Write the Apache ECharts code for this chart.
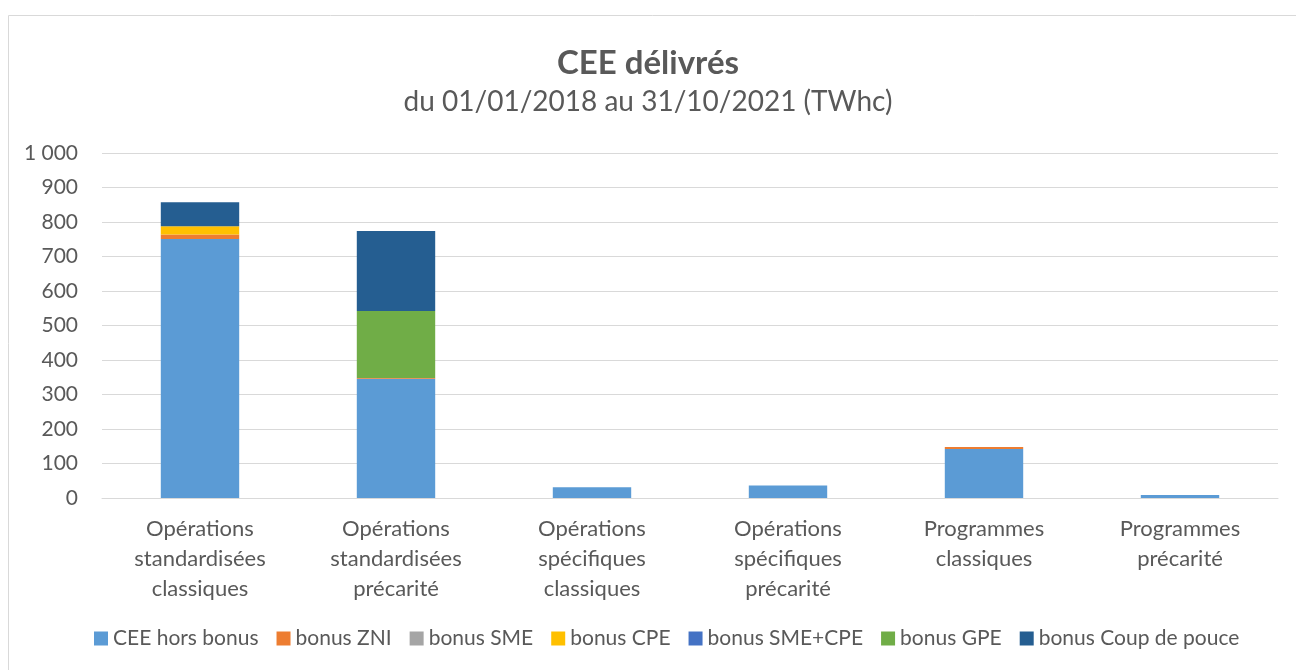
<!DOCTYPE html>
<html>
<head>
<meta charset="utf-8">
<script src="https://cdn.jsdelivr.net/npm/echarts@6/dist/echarts.min.js"></script>
<style>
  html, body { margin: 0; padding: 0; background: #fff; }
  #chart { width: 1296px; height: 670px; }
</style>
</head>
<body>
<div id="chart"></div>
<script>
// categories (x axis)
var categories = [
    'Opérations\nstandardisées\nclassiques',
    'Opérations\nstandardisées\nprécarité',
    'Opérations\nspécifiques\nclassiques',
    'Opérations\nspécifiques\nprécarité',
    'Programmes\nclassiques',
    'Programmes\nprécarité'
];

// stacked series values (TWhc)
var horsBonus   = [751, 346, 31, 36, 142, 9];
var bonusZNI    = [13, 2, 0, 0, 6, 0];
var bonusSME    = [0, 0, 0, 0, 0, 0];
var bonusCPE    = [24, 0, 0, 0, 0, 0];
var bonusSMECPE = [0, 0, 0, 0, 0, 0];
var bonusGPE    = [0, 194, 0, 0, 0, 0];
var bonusCDP    = [69, 232, 0, 0, 0, 0];

var seriesNames = ['CEE hors bonus', 'bonus ZNI', 'bonus SME', 'bonus CPE',
    'bonus SME+CPE', 'bonus GPE', 'bonus Coup de pouce'];
var seriesData = [horsBonus, bonusZNI, bonusSME, bonusCPE, bonusSMECPE, bonusGPE, bonusCDP];
var colors = ['#5b9bd5', '#ed7d31', '#a5a5a5', '#ffc000', '#4472c4', '#70ad47', '#255e91'];

var textColor = '#595959';
var font = 'Lato, "Open Sans", sans-serif';

var chart = echarts.init(document.getElementById('chart'));

var series = seriesNames.map(function (name, i) {
    return {
        name: name,
        type: 'bar',
        stack: 'total',
        barWidth: '40%',
        data: seriesData[i],
        itemStyle: { color: colors[i] },
        emphasis: { disabled: true }
    };
});

chart.setOption({
    animation: false,
    color: colors,
    textStyle: { fontFamily: font },
    graphic: [{
        type: 'rect',
        shape: { x: 8.5, y: 15.5, width: 1300, height: 700 },
        style: { fill: 'none', stroke: '#d9d9d9', lineWidth: 1 },
        silent: true
    }],
    title: {
        text: 'CEE délivrés',
        subtext: 'du 01/01/2018 au 31/10/2021 (TWhc)',
        left: 'center',
        top: 42,
        itemGap: 8,
        textStyle: { color: textColor, fontSize: 33, fontWeight: 'bold', fontFamily: font },
        subtextStyle: { color: textColor, fontSize: 28, fontFamily: font }
    },
    legend: {
        bottom: 16,
        left: 89,
        itemWidth: 14,
        itemHeight: 14,
        itemGap: 18,
        icon: 'rect',
        textStyle: { color: textColor, fontSize: 21, fontFamily: font },
        data: seriesNames
    },
    grid: {
        left: 102,
        right: 18,
        top: 153,
        bottom: 172,
        containLabel: false
    },
    xAxis: {
        type: 'category',
        data: categories,
        axisTick: { show: false },
        axisLine: { show: true, lineStyle: { color: '#d9d9d9', width: 1 } },
        axisLabel: {
            color: textColor,
            fontSize: 22,
            lineHeight: 30,
            margin: 16,
            fontFamily: font,
            interval: 0
        }
    },
    yAxis: {
        type: 'value',
        min: 0,
        max: 1000,
        interval: 100,
        axisLine: { show: false },
        axisTick: { show: false },
        splitLine: { lineStyle: { color: '#d9d9d9', width: 1 } },
        axisLabel: {
            color: textColor,
            fontSize: 21,
            margin: 24,
            fontFamily: font,
            formatter: function (v) {
                return String(v).replace(/\B(?=(\d{3})+(?!\d))/g, ' ');
            }
        }
    },
    series: series
});
</script>
</body>
</html>
